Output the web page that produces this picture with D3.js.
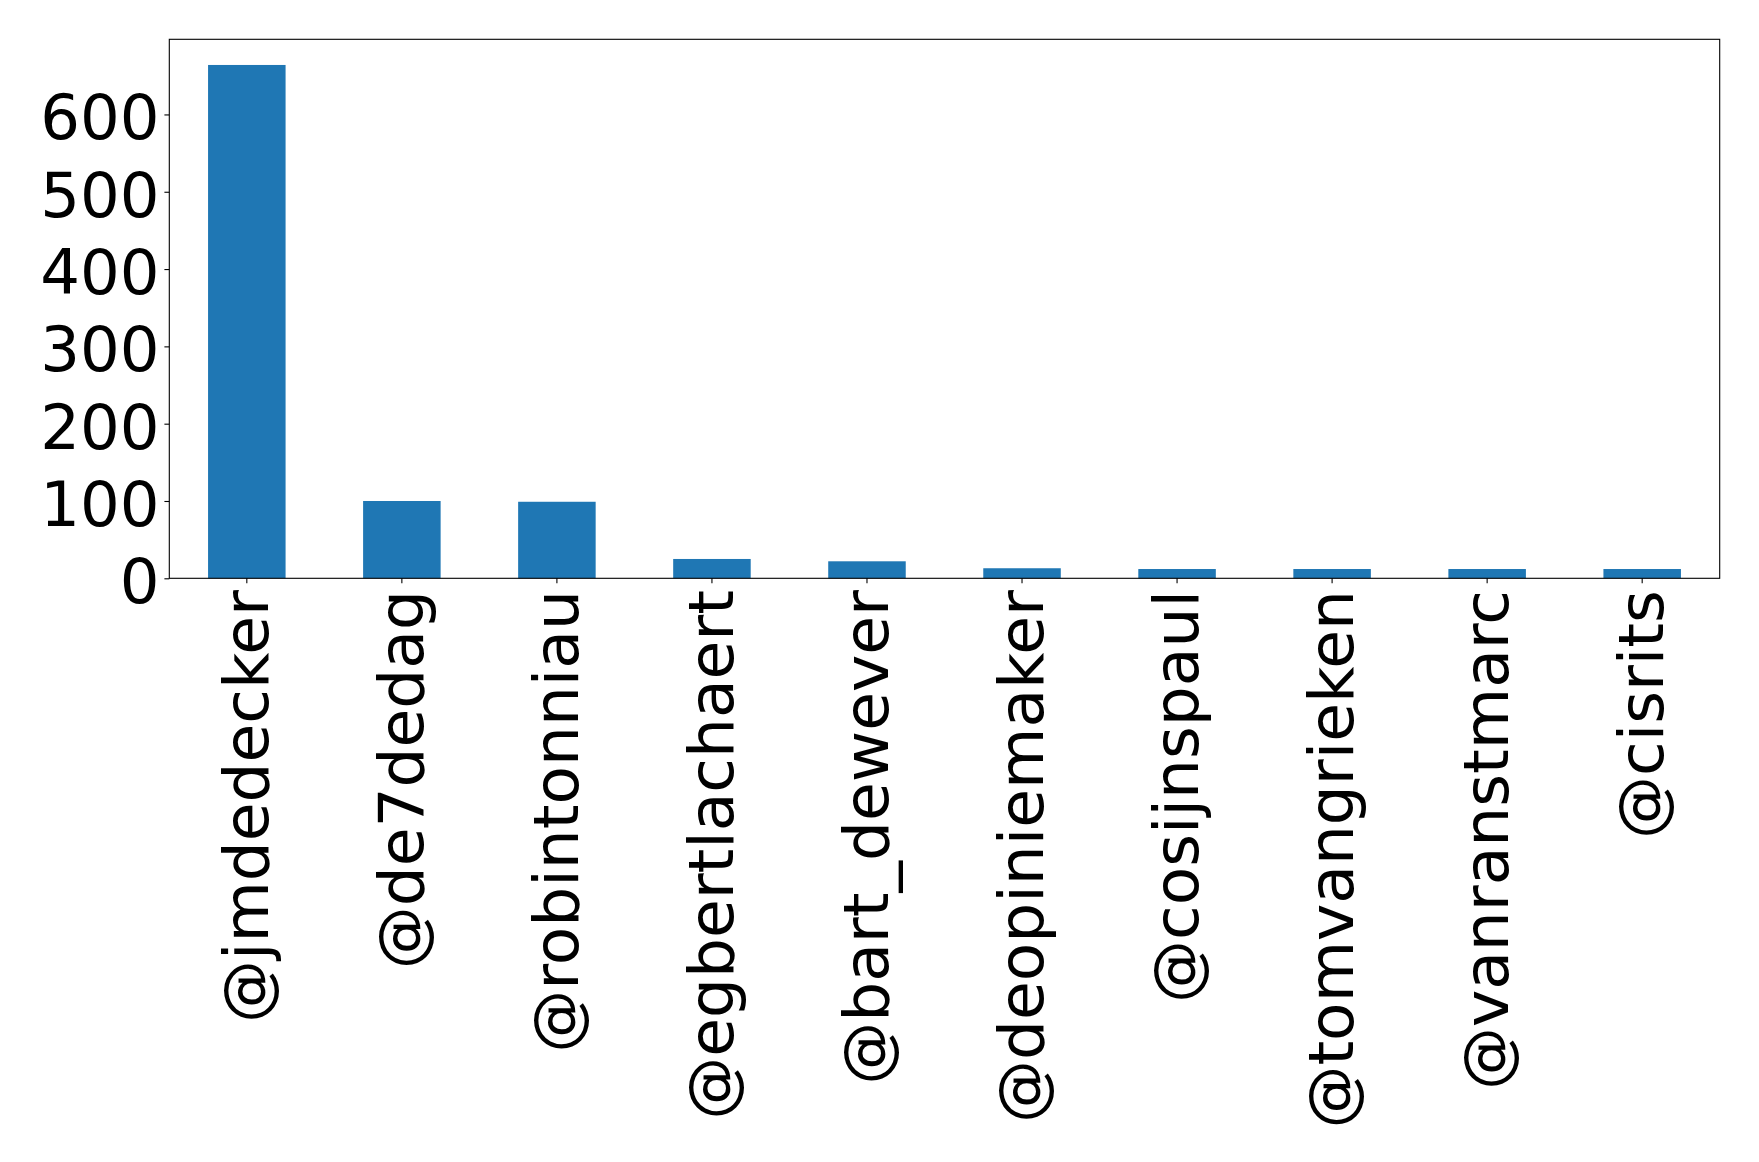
<!DOCTYPE html>
<html>
<head>
<meta charset="utf-8">
<script src="https://cdn.jsdelivr.net/npm/d3@7"></script>
<style>
    body { margin: 0; background: #fff; }
    text { font-family: "DejaVu Sans", sans-serif; fill: #000; }
</style>
</head>
<body>
<svg id="bar"></svg>
<script>
// data
const accounts = ["@jmdedecker", "@de7dedag", "@robintonniau", "@egbertlachaert", "@bart_dewever",
    "@deopiniemaker", "@cosijnspaul", "@tomvangrieken", "@vanranstmarc", "@cisrits"];
const mentions = [664, 100, 99, 25, 22, 13, 12, 12, 12, 12];
const yTicks = [0, 100, 200, 300, 400, 500, 600];

const W = 1759, H = 1162;
const plot = { left: 169.3, right: 1719.7, top: 39.3, bottom: 578.3 };
const fontSize = 62.5;
const tickLen = 4.9, tickPad = 4.9;

const svg = d3.select("#bar").attr("width", W).attr("height", H);

const xScale = d3.scaleBand()
    .domain(accounts)
    .range([plot.left, plot.right])
    .paddingInner(0.5)
    .paddingOuter(0.25);

const yScale = d3.scaleLinear()
    .domain([0, d3.max(mentions) * 1.05])
    .range([plot.bottom, plot.top]);

// bars
svg.selectAll(".bar")
    .data(accounts)
    .enter()
    .append("rect")
    .attr("class", "bar")
    .attr("fill", "#1f77b4")
    .attr("x", d => xScale(d))
    .attr("width", xScale.bandwidth())
    .attr("y", (d, i) => yScale(mentions[i]))
    .attr("height", (d, i) => plot.bottom - yScale(mentions[i]));

// frame
svg.append("rect")
    .attr("x", plot.left)
    .attr("y", plot.top)
    .attr("width", plot.right - plot.left)
    .attr("height", plot.bottom - plot.top)
    .attr("fill", "none")
    .attr("stroke", "#000")
    .attr("stroke-width", 1.1);

// y axis
const yAxis = svg.append("g")
    .attr("transform", "translate(" + plot.left + ",0)")
    .call(d3.axisLeft(yScale).tickValues(yTicks).tickSize(tickLen).tickPadding(tickPad));
yAxis.select(".domain").remove();
yAxis.selectAll("line").attr("stroke", "#000").attr("stroke-width", 1.1);
yAxis.selectAll("text")
    .attr("font-size", fontSize)
    .attr("font-family", "DejaVu Sans")
    .attr("dy", "0.39em");

// x axis, labels rotated upright
const xAxis = svg.append("g")
    .attr("transform", "translate(0," + plot.bottom + ")")
    .call(d3.axisBottom(xScale).tickSize(tickLen).tickPadding(tickPad));
xAxis.select(".domain").remove();
xAxis.selectAll("line").attr("stroke", "#000").attr("stroke-width", 1.1);
xAxis.selectAll("text")
    .attr("font-size", 63)
    .attr("font-family", "DejaVu Sans")
    .attr("y", 0)
    .attr("dy", "0.33em")
    .attr("transform", "translate(0," + (tickLen + tickPad + 2) + ") rotate(-90)")
    .style("text-anchor", "end");
</script>
</body>
</html>
